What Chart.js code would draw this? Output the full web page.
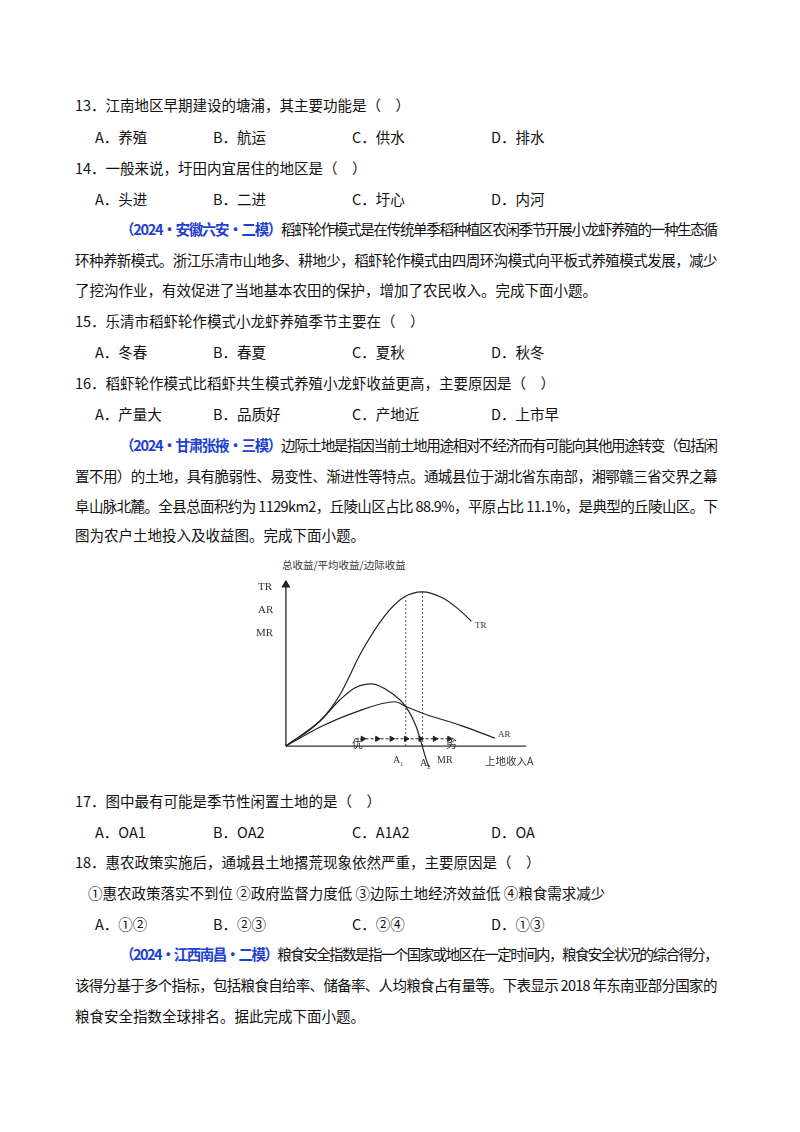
<!DOCTYPE html>
<html><head><meta charset="utf-8">
<script src="https://cdn.jsdelivr.net/npm/chart.js@4.4.0/dist/chart.umd.min.js"></script>
<style>
body{margin:0;width:800px;height:1132px;background:#fff;position:relative;font-family:"Noto Sans CJK SC",serif;color:#111;}
.l{position:absolute;font-size:14.5px;line-height:20px;white-space:nowrap;}
.b{color:#1f3fd0;font-weight:bold;}
.t{position:absolute;font-size:11px;font-family:"Liberation Serif",serif;color:#333;white-space:nowrap;}
#wrap{position:absolute;left:271px;top:575px;width:270px;height:200px;}
</style></head><body>
<div class="l" style="left:75px;top:95px">13．江南地区早期建设的塘浦，其主要功能是（　）</div>
<div class="l" style="left:95px;top:127px">A．养殖</div><div class="l" style="left:213px;top:127px">B．航运</div><div class="l" style="left:352px;top:127px">C．供水</div><div class="l" style="left:491px;top:127px">D．排水</div>
<div class="l" style="left:75px;top:158px">14．一般来说，圩田内宜居住的地区是（　）</div>
<div class="l" style="left:95px;top:189px">A．头进</div><div class="l" style="left:213px;top:189px">B．二进</div><div class="l" style="left:352px;top:189px">C．圩心</div><div class="l" style="left:491px;top:189px">D．内河</div>
<div class="l fit" data-w="597" style="left:120px;top:219px"><span class="b">（2024·安徽六安·二模）</span>稻虾轮作模式是在传统单季稻种植区农闲季节开展小龙虾养殖的一种生态循</div>
<div class="l fit" data-w="642" style="left:75px;top:250px">环种养新模式。浙江乐清市山地多、耕地少，稻虾轮作模式由四周环沟模式向平板式养殖模式发展，减少</div>
<div class="l" style="left:75px;top:280px">了挖沟作业，有效促进了当地基本农田的保护，增加了农民收入。完成下面小题。</div>
<div class="l" style="left:75px;top:311px">15．乐清市稻虾轮作模式小龙虾养殖季节主要在（　）</div>
<div class="l" style="left:95px;top:342px">A．冬春</div><div class="l" style="left:213px;top:342px">B．春夏</div><div class="l" style="left:352px;top:342px">C．夏秋</div><div class="l" style="left:491px;top:342px">D．秋冬</div>
<div class="l" style="left:75px;top:373px">16．稻虾轮作模式比稻虾共生模式养殖小龙虾收益更高，主要原因是（　）</div>
<div class="l" style="left:95px;top:404px">A．产量大</div><div class="l" style="left:213px;top:404px">B．品质好</div><div class="l" style="left:352px;top:404px">C．产地近</div><div class="l" style="left:491px;top:404px">D．上市早</div>
<div class="l fit" data-w="597" style="left:120px;top:435px"><span class="b">（2024·甘肃张掖·三模）</span>边际土地是指因当前土地用途相对不经济而有可能向其他用途转变（包括闲</div>
<div class="l fit" data-w="642" style="left:75px;top:466px">置不用）的土地，具有脆弱性、易变性、渐进性等特点。通城县位于湖北省东南部，湘鄂赣三省交界之幕</div>
<div class="l fit" data-w="642" style="left:75px;top:496px">阜山脉北麓。全县总面积约为 1129km2，丘陵山区占比 88.9%，平原占比 11.1%，是典型的丘陵山区。下</div>
<div class="l" style="left:75px;top:525px">图为农户土地投入及收益图。完成下面小题。</div>

<div id="wrap"><canvas id="c"></canvas></div>
<div class="t" style="left:282px;top:557px;font-family:'Noto Sans CJK SC';font-size:10.5px">总收益/平均收益/边际收益</div>
<div class="t" style="left:258px;top:580px">TR</div>
<div class="t" style="left:258px;top:603px">AR</div>
<div class="t" style="left:256px;top:626px">MR</div>
<div class="t" style="left:475px;top:620px;font-size:9px">TR</div>
<div class="t" style="left:498px;top:729px;font-size:9px">AR</div>
<div class="t" style="left:352px;top:735px;font-family:'Noto Sans CJK SC'">优</div>
<div class="t" style="left:446px;top:735px;font-family:'Noto Sans CJK SC'">劣</div>
<div class="t" style="left:393px;top:754px;font-size:10px">A<sub style="font-size:6px">1</sub></div>
<div class="t" style="left:420px;top:757px;font-size:10px">A<sub style="font-size:6px">2</sub></div>
<div class="t" style="left:437px;top:754px;font-size:10px">MR</div>
<div class="t" style="left:485px;top:753px;font-family:'Noto Sans CJK SC';font-size:10.5px">上地收入A</div>

<div class="l" style="left:75px;top:791px">17．图中最有可能是季节性闲置土地的是（　）</div>
<div class="l" style="left:95px;top:822px">A．OA1</div><div class="l" style="left:213px;top:822px">B．OA2</div><div class="l" style="left:352px;top:822px">C．A1A2</div><div class="l" style="left:491px;top:822px">D．OA</div>
<div class="l" style="left:75px;top:852px">18．惠农政策实施后，通城县土地撂荒现象依然严重，主要原因是（　）</div>
<div class="l" style="left:88px;top:883px">①惠农政策落实不到位 ②政府监督力度低 ③边际土地经济效益低 ④粮食需求减少</div>
<div class="l" style="left:95px;top:914px">A．①②</div><div class="l" style="left:213px;top:914px">B．②③</div><div class="l" style="left:352px;top:914px">C．②④</div><div class="l" style="left:491px;top:914px">D．①③</div>
<div class="l fit" data-w="597" style="left:120px;top:944px"><span class="b">（2024·江西南昌·二模）</span>粮食安全指数是指一个国家或地区在一定时间内，粮食安全状况的综合得分，</div>
<div class="l fit" data-w="642" style="left:75px;top:975px">该得分基于多个指标，包括粮食自给率、储备率、人均粮食占有量等。下表显示 2018 年东南亚部分国家的</div>
<div class="l" style="left:75px;top:1006px">粮食安全指数全球排名。据此完成下面小题。</div>

<script>
// 让整行文字两端对齐
document.querySelectorAll('.fit').forEach(function (el) {
    var target = +el.dataset.w;
    var n = el.textContent.length;
    var sp = (target - el.scrollWidth) / n;
    el.style.letterSpacing = sp + 'px';
    if (el.scrollWidth > target + 2) {
        el.style.letterSpacing = '0px';
        el.style.fontSize = (14.5 * target / el.scrollWidth) + 'px';
    }
});

// 曲线数据（x = 土地投入, y = 收益）
var trX = [0, 14.3, 22.3, 31.6, 40.9, 48.9, 56.9, 64.9, 71.6, 77.2];
var trY = [0, 15.7, 31.4, 58.8, 80.4, 92.2, 95.7, 92.2, 85.3, 77.5];
var mrX = [0, 14.3, 22.3, 29, 35.6, 43.6, 49.9, 54.3, 58.3, 59.5];
var mrY = [0, 15.7, 28.4, 36.3, 38.6, 33.3, 24.5, 11.8, -7.8, -13];
var arX = [0, 14.3, 28.2, 45.5, 49.9, 58.3, 73, 87];
var arY = [0, 11.8, 20.6, 27.5, 24.5, 19.6, 12.7, 4.9];
var a1 = 49.9, a2 = 56.9;
var arrowX = [32, 38, 44, 50, 56, 62, 68];

function pts(xs, ys) {
    return xs.map(function (x, i) { return {x: x, y: ys[i]}; });
}
function curve(xs, ys) {
    return {data: pts(xs, ys), borderColor: '#222', borderWidth: 1.2, pointRadius: 0, cubicInterpolationMode: 'monotone'};
}
function line(d, dash) {
    return {data: d, borderColor: '#333', borderWidth: dash ? 0.8 : 1.3, borderDash: dash ? [2, 2] : [], pointRadius: 0, tension: 0};
}

var datasets = [
    curve(trX, trY), curve(mrX, mrY), curve(arX, arY),
    line([{x: a1, y: 0}, {x: a1, y: 92.2}], true),
    line([{x: a2, y: 0}, {x: a2, y: 95.7}], true),
    line([{x: 0, y: 0}, {x: 100, y: 0}]),
    {data: [{x: 0, y: 0}, {x: 0, y: 100}], borderColor: '#222', borderWidth: 1.3,
     pointRadius: [0, 4], pointStyle: 'triangle', backgroundColor: '#222'},
    {data: [{x: 29, y: 4.5}, {x: 70, y: 4.5}], borderColor: '#222', borderWidth: 1,
     borderDash: [3, 2], pointRadius: 0},
    {data: arrowX.map(function (x) { return {x: x, y: 4.5}; }), showLine: false,
     pointStyle: 'triangle', rotation: 90, pointRadius: 3, backgroundColor: '#222', borderColor: '#222'}
];

new Chart(document.getElementById('c').getContext('2d'), {
    type: 'line',
    data: {datasets: datasets},
    options: {
        responsive: true, maintainAspectRatio: false, animation: false,
        layout: {padding: 0},
        plugins: {legend: {display: false}, tooltip: {enabled: false}},
        scales: {
            x: {type: 'linear', min: -4, max: 104, display: false},
            y: {min: -14.7, max: 102.9, display: false}
        }
    }
});
</script>
</body></html>
